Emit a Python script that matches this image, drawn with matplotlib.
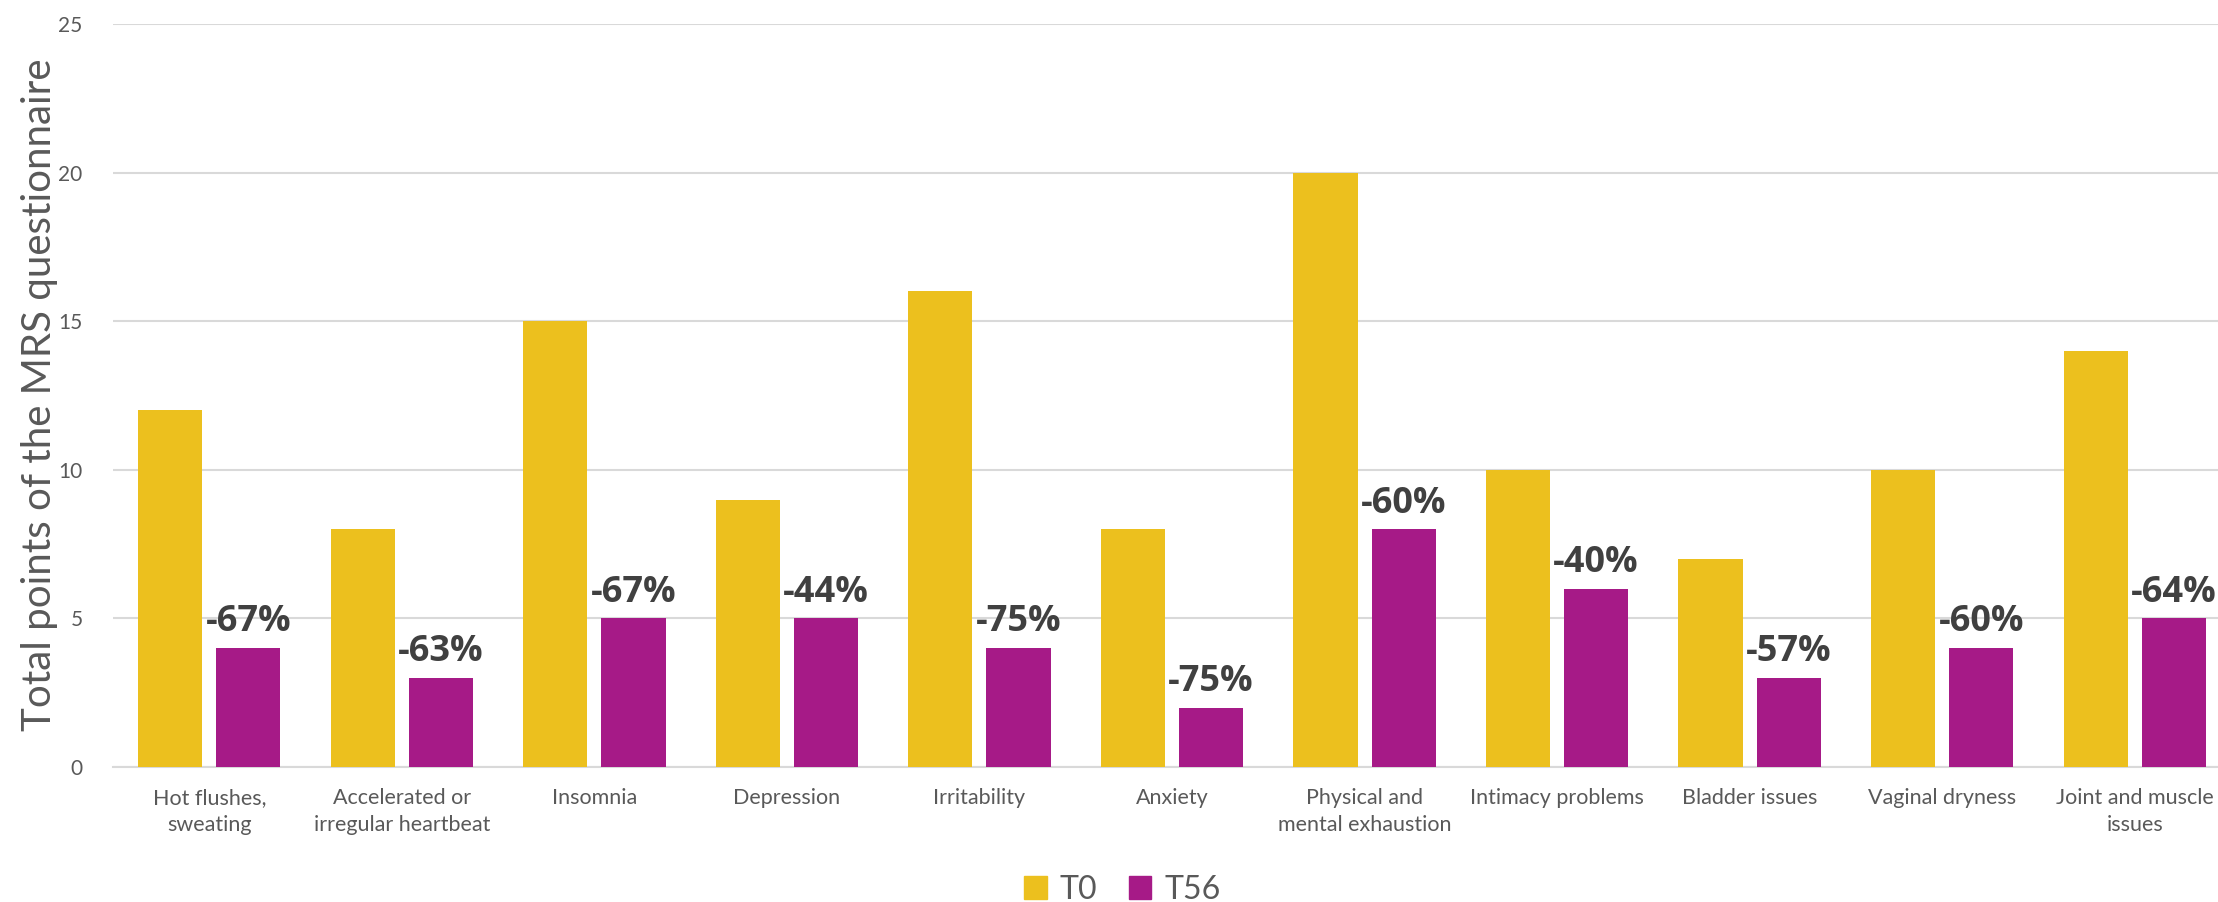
import numpy as np
import matplotlib.pyplot as plt
from matplotlib.patches import Patch

# Data
categories = ["Hot flushes,\nsweating", "Accelerated or\nirregular heartbeat", "Insomnia",
              "Depression", "Irritability", "Anxiety", "Physical and\nmental exhaustion",
              "Intimacy problems", "Bladder issues", "Vaginal dryness", "Joint and muscle\nissues"]
t0_values = [12, 8, 15, 9, 16, 8, 20, 10, 7, 10, 14]
t56_values = [4, 3, 5, 5, 4, 2, 8, 6, 3, 4, 5]
change_labels = ["-67%", "-63%", "-67%", "-44%", "-75%", "-75%", "-60%", "-40%", "-57%", "-60%", "-64%"]

color_t0 = "#ECC01E"
color_t56 = "#A61A87"
grid_color = "#D9D9D9"
text_color = "#595959"

plt.rcParams["font.family"] = ["Lato", "DejaVu Sans"]

fig = plt.figure(figsize=(22.18, 9.02), dpi=100)
ax = fig.add_axes([113 / 2218, 1 - 767 / 902, 2118 / 2218, (767 - 24) / 902])

x = np.arange(len(categories))
width = 0.333
offset = 0.203
ax.bar(x - offset, t0_values, width, color=color_t0, zorder=3, label="T0")
bars = ax.bar(x + offset, t56_values, width, color=color_t56, zorder=3, label="T56")

# percentage change labels above the T56 bars
for rect, lab in zip(bars, change_labels):
    ax.annotate(lab, (rect.get_x() + rect.get_width() / 2, rect.get_height()),
                xytext=(0, 12), textcoords="offset points", ha="center", va="baseline",
                fontsize=26, fontweight="bold", color="#404040", family=["Open Sans", "DejaVu Sans"],
                zorder=5)

ax.set_xlim(-0.5, len(categories) - 0.5)
ax.set_ylim(0, 25)
ax.set_yticks([0, 5, 10, 15, 20, 25])
ax.set_xticks(x)
ax.set_xticklabels(categories, fontsize=15.5, color=text_color, linespacing=1.45)
plt.setp(ax.get_yticklabels(), fontsize=15, color=text_color)
ax.tick_params(axis="both", which="both", length=0)
ax.tick_params(axis="y", pad=22)
ax.tick_params(axis="x", pad=15)

for side in ["top", "right", "left"]:
    ax.spines[side].set_visible(False)
ax.spines["bottom"].set_color(grid_color)
ax.spines["bottom"].set_linewidth(1.5)
ax.yaxis.grid(True, color=grid_color, linewidth=1.5, zorder=0)
ax.xaxis.grid(False)

fig.text(40 / 2218, 1 - 395 / 902, "Total points of the MRS questionnaire", rotation=90,
         ha="center", va="center", fontsize=29, color=text_color)

handles = [Patch(color=color_t0, label="T0"), Patch(color=color_t56, label="T56")]
leg = fig.legend(handles=handles, loc="lower center", bbox_to_anchor=(0.506, -0.035), ncol=2,
                 frameon=False, fontsize=23, handlelength=0.7, handleheight=0.7,
                 handletextpad=0.4, columnspacing=1.0)
for t in leg.get_texts():
    t.set_color(text_color)

fig.savefig("out.png", dpi=100)
